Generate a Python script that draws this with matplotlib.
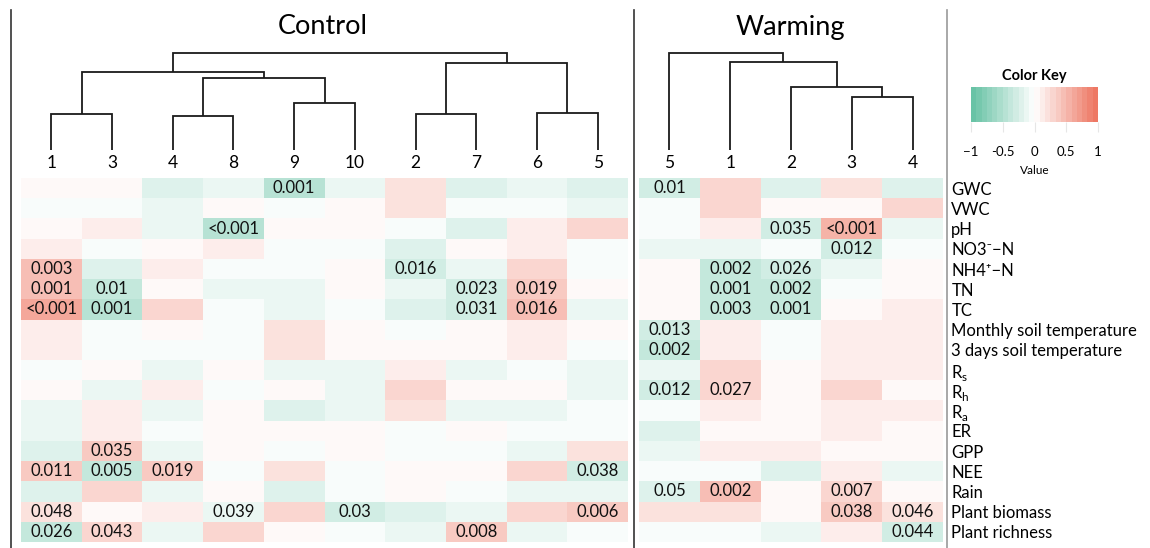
import numpy as np
import matplotlib
matplotlib.use('Agg')
import matplotlib.pyplot as plt
from matplotlib.colors import LinearSegmentedColormap
from matplotlib.lines import Line2D

plt.rcParams['font.family'] = ['Lato', 'DejaVu Sans']

# ---- data ----
rows = ['GWC', 'VWC', 'pH', 'NO3⁻−N', 'NH4⁺−N', 'TN', 'TC',
        'Monthly soil temperature', '3 days soil temperature',
        r'R$_\mathregular{s}$', r'R$_\mathregular{h}$', r'R$_\mathregular{a}$',
        'ER', 'GPP', 'NEE', 'Rain', 'Plant biomass', 'Plant richness']

ctrl_cols = ['1', '3', '4', '8', '9', '10', '2', '7', '6', '5']
warm_cols = ['5', '1', '2', '3', '4']

# correlation coefficients (rows x columns, columns in dendrogram order)
ctrl_r = np.array([
    [ 0.03,  0.03, -0.25, -0.12, -0.42, -0.12,  0.17, -0.22, -0.12, -0.25],
    [-0.04, -0.04, -0.12,  0.03, -0.05,  0.03,  0.17, -0.04, -0.04, -0.12],
    [ 0.03,  0.15, -0.12, -0.45,  0.03,  0.03, -0.04, -0.22,  0.15,  0.25],
    [ 0.15, -0.04,  0.03,  0.15, -0.04, -0.04, -0.25,  0.03,  0.15, -0.04],
    [ 0.45, -0.25,  0.15, -0.03, -0.04,  0.03, -0.32, -0.12,  0.25, -0.04],
    [ 0.47, -0.35,  0.02, -0.12, -0.12,  0.03, -0.12, -0.30,  0.40,  0.03],
    [ 0.62, -0.42,  0.25, -0.04, -0.12, -0.04, -0.25, -0.30,  0.42, -0.12],
    [ 0.15, -0.04,  0.03, -0.04,  0.20,  0.03, -0.04,  0.03,  0.15,  0.03],
    [ 0.15, -0.04, -0.04, -0.04,  0.20,  0.03,  0.03,  0.03,  0.15, -0.04],
    [-0.04,  0.03, -0.12,  0.03, -0.12, -0.12,  0.15, -0.12, -0.04, -0.12],
    [ 0.03, -0.12,  0.15, -0.04,  0.03, -0.12,  0.25,  0.03,  0.03, -0.12],
    [-0.12,  0.15, -0.12,  0.03, -0.22, -0.12,  0.17, -0.12, -0.12, -0.03],
    [-0.12,  0.15, -0.03,  0.03,  0.03,  0.03, -0.03,  0.03, -0.03, -0.03],
    [-0.25,  0.35, -0.12,  0.02, -0.03,  0.03, -0.03, -0.03, -0.12,  0.17],
    [ 0.38, -0.40,  0.38, -0.03,  0.17, -0.03,  0.03,  0.03,  0.30, -0.30],
    [-0.25,  0.25, -0.12,  0.03, -0.25, -0.03,  0.03, -0.03, -0.12, -0.12],
    [ 0.20,  0.02,  0.15, -0.15,  0.30, -0.30, -0.22, -0.12,  0.30,  0.35],
    [-0.35,  0.30, -0.12,  0.30,  0.03, -0.04, -0.12,  0.38, -0.12, -0.04],
])

warm_r = np.array([
    [-0.30,  0.25, -0.22,  0.22, -0.22],
    [-0.04,  0.25,  0.03,  0.03,  0.25],
    [-0.04,  0.15, -0.30,  0.55, -0.12],
    [-0.12, -0.12, -0.03, -0.30, -0.03],
    [ 0.03, -0.35, -0.28, -0.12,  0.03],
    [ 0.03, -0.38, -0.38, -0.03,  0.03],
    [ 0.03, -0.38, -0.38,  0.03,  0.15],
    [-0.30,  0.15, -0.03,  0.15,  0.15],
    [-0.35,  0.15, -0.03,  0.15,  0.15],
    [-0.12,  0.25,  0.03,  0.15,  0.15],
    [-0.32,  0.30,  0.03,  0.28,  0.03],
    [-0.03,  0.15,  0.03,  0.15,  0.15],
    [-0.25,  0.03,  0.03,  0.15,  0.03],
    [-0.15,  0.15,  0.15,  0.03,  0.03],
    [-0.04, -0.04, -0.25,  0.15, -0.15],
    [-0.25,  0.44,  0.03,  0.30,  0.02],
    [ 0.22,  0.22,  0.03,  0.35,  0.20],
    [-0.04, -0.04, -0.15,  0.15, -0.30],
])

# significant p-values shown in cells, (row, col, text)
ctrl_p = [(0, 4, '0.001'), (2, 3, '<0.001'), (4, 0, '0.003'), (4, 6, '0.016'),
          (5, 0, '0.001'), (5, 1, '0.01'), (5, 7, '0.023'), (5, 8, '0.019'),
          (6, 0, '<0.001'), (6, 1, '0.001'), (6, 7, '0.031'), (6, 8, '0.016'),
          (13, 1, '0.035'), (14, 0, '0.011'), (14, 1, '0.005'), (14, 2, '0.019'),
          (14, 9, '0.038'), (16, 0, '0.048'), (16, 3, '0.039'), (16, 5, '0.03'),
          (16, 9, '0.006'), (17, 0, '0.026'), (17, 1, '0.043'), (17, 7, '0.008')]
warm_p = [(0, 0, '0.01'), (2, 2, '0.035'), (2, 3, '<0.001'), (3, 3, '0.012'),
          (4, 1, '0.002'), (4, 2, '0.026'), (5, 1, '0.001'), (5, 2, '0.002'),
          (6, 1, '0.003'), (6, 2, '0.001'), (7, 0, '0.013'), (8, 0, '0.002'),
          (10, 0, '0.012'), (10, 1, '0.027'), (15, 0, '0.05'), (15, 1, '0.002'),
          (15, 3, '0.007'), (16, 3, '0.038'), (16, 4, '0.046'), (17, 4, '0.044')]

# dendrograms: (left, right, merge height), leaves are column positions
ctrl_tree = (((0, 1, 36.0), ((2, 3, 34.0), (4, 5, 46.7), 72.3), 77.7),
             ((6, 7, 36.0), (8, 9, 36.7), 86.7), 96.7)
warm_tree = (0, (1, (2, (3, 4, 52.7), 62.7), 87.7), 96.7)

# ---- layout helpers ----
W, H = 1150, 548
fig = plt.figure(figsize=(W / 100, H / 100), dpi=100)


def box(x0, y0, x1, y1):
    return [x0 / W, 1 - y1 / H, (x1 - x0) / W, (y1 - y0) / H]


cmap = LinearSegmentedColormap.from_list(
    'gwr', ['#69C3A6', '#FFFFFF', '#EE7864'], N=24)


def heat(ax, r, cols, pvals, ylabels=False):
    ax.pcolormesh(r, cmap=cmap, vmin=-1, vmax=1)
    ax.set_xlim(0, r.shape[1]); ax.set_ylim(r.shape[0], 0)
    for i, j, t in pvals:
        ax.text(j + 0.5, i + 0.5, t, ha='center', va='center', fontsize=12, color='#111111')
    ax.xaxis.tick_top()
    ax.set_xticks(np.arange(len(cols)) + 0.5)
    ax.set_xticklabels(cols, fontsize=12.5)
    ax.tick_params(axis='x', length=0, pad=5)
    if ylabels:
        ax.yaxis.tick_right()
        ax.set_yticks(np.arange(len(rows)) + 0.5)
        ax.set_yticklabels(rows, fontsize=12)
        ax.tick_params(axis='y', length=0, pad=6)
        for lab in ax.get_yticklabels():
            lab.set_horizontalalignment('left')
    else:
        ax.set_yticks([])
    for s in ax.spines.values():
        s.set_visible(False)


def draw_tree(ax, node):
    if isinstance(node, int):
        return node + 0.5, 0.0
    l, r, h = node
    xl, hl = draw_tree(ax, l)
    xr, hr = draw_tree(ax, r)
    ax.plot([xl, xl, xr, xr], [hl, h, h, hr], color='#1a1a1a', lw=1.3,
            solid_capstyle='butt', solid_joinstyle='miter')
    return (xl + xr) / 2, h


def dendro(rect, tree, n):
    ax = fig.add_axes(rect)
    draw_tree(ax, tree)
    ax.set_xlim(0, n); ax.set_ylim(0, 100)
    ax.axis('off')


ax_c = fig.add_axes(box(21, 178, 628, 542))
heat(ax_c, ctrl_r, ctrl_cols, ctrl_p)
ax_w = fig.add_axes(box(639, 178, 943, 542))
heat(ax_w, warm_r, warm_cols, warm_p, ylabels=True)

dendro(box(21, 50, 628, 150), ctrl_tree, len(ctrl_cols))
dendro(box(639, 50, 943, 150), warm_tree, len(warm_cols))

fig.text(323 / W, 1 - 27 / H, 'Control', ha='center', va='center', fontsize=19.5)
fig.text(790 / W, 1 - 27 / H, 'Warming', ha='center', va='center', fontsize=19.5)

# panel separators
for x, c in [(11, '#333333'), (634, '#333333'), (947, '#999999')]:
    fig.add_artist(Line2D([x / W, x / W], [1 - 10 / H, 0], color=c, lw=1.2))

# colour key
ax_k = fig.add_axes(box(971, 87, 1098, 122))
ax_k.imshow(np.linspace(-1, 1, 24)[None, :], cmap=cmap, vmin=-1, vmax=1,
            aspect='auto', extent=[-1, 1, 0, 1])
ax_k.set_yticks([])
ax_k.set_xticks([-1, -0.5, 0, 0.5, 1])
ax_k.set_xticklabels(['−1', '-0.5', '0', '0.5', '1'], fontsize=9.5)
ax_k.tick_params(axis='x', length=7, color='#e6e6e6', pad=10)
ax_k.set_xlabel('Value', fontsize=8.5, labelpad=5)
ax_k.set_title('Color Key', fontsize=10.5, fontweight='bold', pad=5)
for s in ax_k.spines.values():
    s.set_visible(False)

fig.savefig('out.png', dpi=100)
